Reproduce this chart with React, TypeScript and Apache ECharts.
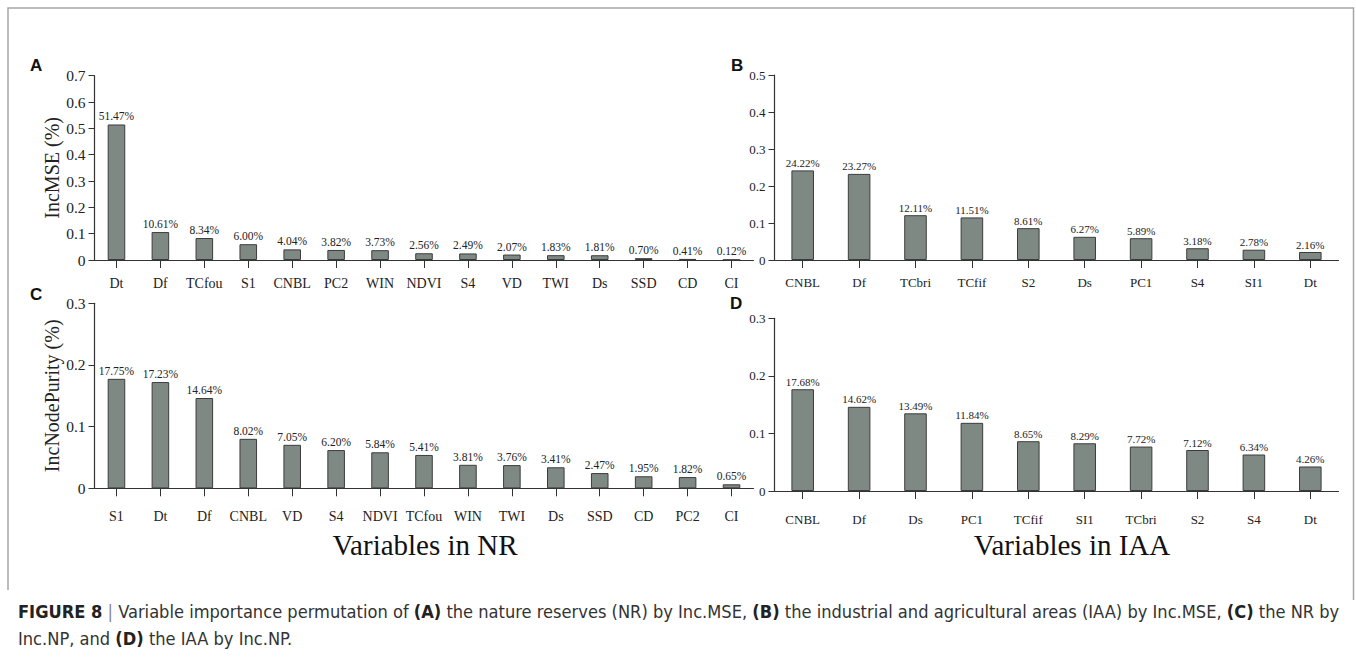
import React, { useEffect, useRef } from "react";
import * as echarts from "echarts";

// ---------- data ----------
const catsA = ["Dt", "Df", "TCfou", "S1", "CNBL", "PC2", "WIN", "NDVI", "S4", "VD", "TWI", "Ds", "SSD", "CD", "CI"];
const pctA = [51.47, 10.61, 8.34, 6.0, 4.04, 3.82, 3.73, 2.56, 2.49, 2.07, 1.83, 1.81, 0.7, 0.41, 0.12];

const catsB = ["CNBL", "Df", "TCbri", "TCfif", "S2", "Ds", "PC1", "S4", "SI1", "Dt"];
const pctB = [24.22, 23.27, 12.11, 11.51, 8.61, 6.27, 5.89, 3.18, 2.78, 2.16];

const catsC = ["S1", "Dt", "Df", "CNBL", "VD", "S4", "NDVI", "TCfou", "WIN", "TWI", "Ds", "SSD", "CD", "PC2", "CI"];
const pctC = [17.75, 17.23, 14.64, 8.02, 7.05, 6.2, 5.84, 5.41, 3.81, 3.76, 3.41, 2.47, 1.95, 1.82, 0.65];

const catsD = ["CNBL", "Df", "Ds", "PC1", "TCfif", "SI1", "TCbri", "S2", "S4", "Dt"];
const pctD = [17.68, 14.62, 13.49, 11.84, 8.65, 8.29, 7.72, 7.12, 6.34, 4.26];

const yMaxA = 0.7;
const yMaxB = 0.5;
const yMaxC = 0.3;
const yMaxD = 0.3;

const nameA = "IncMSE (%)";
const nameC = "IncNodePurity (%)";
const titleLeft = "Variables in NR";
const titleRight = "Variables in IAA";

// ---------- style ----------
const SERIF = "'Liberation Serif', 'Times New Roman', serif";
const SANS = "'Liberation Sans', Arial, sans-serif";
const NARROW = "'Liberation Sans Narrow', 'DejaVu Sans Condensed', 'Liberation Sans', sans-serif";
const INK = "#222";
const BAR = "#7f8984";
const BAR_EDGE = "#3c3c3c";

type Panel = {
  cats: string[];
  pct: number[];
  max: number;
  grid: { left: number; top: number; width: number; height: number };
  xFont: number;
  yFont: number;
  lblFont: number;
  xMargin: number;
  name?: string;
  nameGap?: number;
};

const panels: Panel[] = [
  { cats: catsA, pct: pctA, max: yMaxA, grid: { left: 94.5, top: 75.7, width: 659, height: 184.3 }, xFont: 14, yFont: 15.5, lblFont: 11.5, xMargin: 16, name: nameA, nameGap: 32 },
  { cats: catsB, pct: pctB, max: yMaxB, grid: { left: 774.5, top: 75, width: 564, height: 185 }, xFont: 13, yFont: 13, lblFont: 11, xMargin: 16 },
  { cats: catsC, pct: pctC, max: yMaxC, grid: { left: 94.5, top: 303.3, width: 659, height: 185 }, xFont: 14, yFont: 15.5, lblFont: 11.5, xMargin: 21, name: nameC, nameGap: 32 },
  { cats: catsD, pct: pctD, max: yMaxD, grid: { left: 774.5, top: 318.3, width: 564, height: 172.7 }, xFont: 13, yFont: 13, lblFont: 11, xMargin: 22 },
];

export default function App() {
  const ref = useRef<HTMLDivElement>(null);

  useEffect(() => {
    document.body.style.margin = "0";
    if (!ref.current) return;
    const chart = echarts.init(ref.current, undefined, { renderer: "svg" });

    const grids = panels.map((p) => ({ ...p.grid, containLabel: false }));
    const xAxes = panels.map((p, i) => ({
      type: "category",
      gridIndex: i,
      data: p.cats,
      axisLine: { show: true, lineStyle: { color: "#333", width: 1.2 } },
      axisTick: { show: true, alignWithLabel: true, length: 8, lineStyle: { color: "#333", width: 1 } },
      axisLabel: { interval: 0, fontFamily: SERIF, fontSize: p.xFont, color: INK, margin: p.xMargin },
      splitLine: { show: false },
    }));
    const yAxes = panels.map((p, i) => ({
      type: "value",
      gridIndex: i,
      min: 0,
      max: p.max,
      interval: 0.1,
      name: p.name,
      nameLocation: "middle",
      nameRotate: 90,
      nameGap: p.nameGap,
      nameTextStyle: { fontFamily: SERIF, fontSize: 20, color: INK },
      axisLine: { show: true, lineStyle: { color: "#333", width: 1.2 } },
      axisTick: { show: true, length: 6, lineStyle: { color: "#333", width: 1 } },
      axisLabel: {
        fontFamily: SERIF,
        fontSize: p.yFont,
        color: INK,
        margin: 9,
        formatter: (v: number) => (v === 0 ? "0" : v.toFixed(1)),
      },
      splitLine: { show: false },
    }));
    const series = panels.map((p, i) => ({
      type: "bar",
      xAxisIndex: i,
      yAxisIndex: i,
      data: p.pct.map((v) => v / 100),
      barWidth: "40%",
      itemStyle: { color: BAR, borderColor: BAR_EDGE, borderWidth: 1 },
      label: {
        show: true,
        position: "top",
        distance: 2,
        fontFamily: SERIF,
        fontSize: p.lblFont,
        color: INK,
        formatter: (q: any) => p.pct[q.dataIndex].toFixed(2) + "%",
      },
    }));

    const letter = (t: string, x: number, y: number) => ({
      type: "text",
      x,
      y,
      style: { text: t, fontFamily: SANS, fontWeight: "bold", fontSize: 17, fill: "#111", verticalAlign: "middle" },
    });

    const graphic = [
      {
        type: "polyline",
        shape: { points: [[8, 590], [8, 8], [1353.5, 8], [1353.5, 600]] },
        style: { stroke: "#a6a6a6", lineWidth: 1.5, fill: "none" },
      },
      letter("A", 30, 65),
      letter("B", 731, 65),
      letter("C", 30, 294),
      letter("D", 730, 303),
      {
        type: "text",
        x: 425,
        y: 545,
        style: { text: titleLeft, fontFamily: SERIF, fontSize: 29, fill: "#111", align: "center", verticalAlign: "middle" },
      },
      {
        type: "text",
        x: 1072,
        y: 545,
        style: { text: titleRight, fontFamily: SERIF, fontSize: 29, fill: "#111", align: "center", verticalAlign: "middle" },
      },
      {
        type: "text",
        x: 18,
        y: 611,
        style: {
          text:
            "{b|FIGURE 8} {s||} Variable importance permutation of {b|(A)} the nature reserves (NR) by Inc.MSE, {b|(B)} the industrial and agricultural areas (IAA) by Inc.MSE, {b|(C)} the NR by",
          fontFamily: NARROW,
          fontSize: 18.1,
          fill: "#333",
          verticalAlign: "middle",
          rich: {
            b: { fontFamily: NARROW, fontSize: 18.1, fontWeight: "bold", fill: "#222" },
            s: { fontFamily: NARROW, fontSize: 18.1, fill: "#888" },
          },
        },
      },
      {
        type: "text",
        x: 18,
        y: 638,
        style: {
          text: "Inc.NP, and {b|(D)} the IAA by Inc.NP.",
          fontFamily: NARROW,
          fontSize: 18.1,
          fill: "#333",
          verticalAlign: "middle",
          rich: {
            b: { fontFamily: NARROW, fontSize: 18.1, fontWeight: "bold", fill: "#222" },
          },
        },
      },
    ];

    chart.setOption({
      animation: false,
      backgroundColor: "#ffffff",
      grid: grids,
      xAxis: xAxes,
      yAxis: yAxes,
      series,
      graphic,
    } as any);

    return () => chart.dispose();
  }, []);

  return <div ref={ref} style={{ position: "absolute", left: 0, top: 0, width: 1356, height: 664 }} />;
}
